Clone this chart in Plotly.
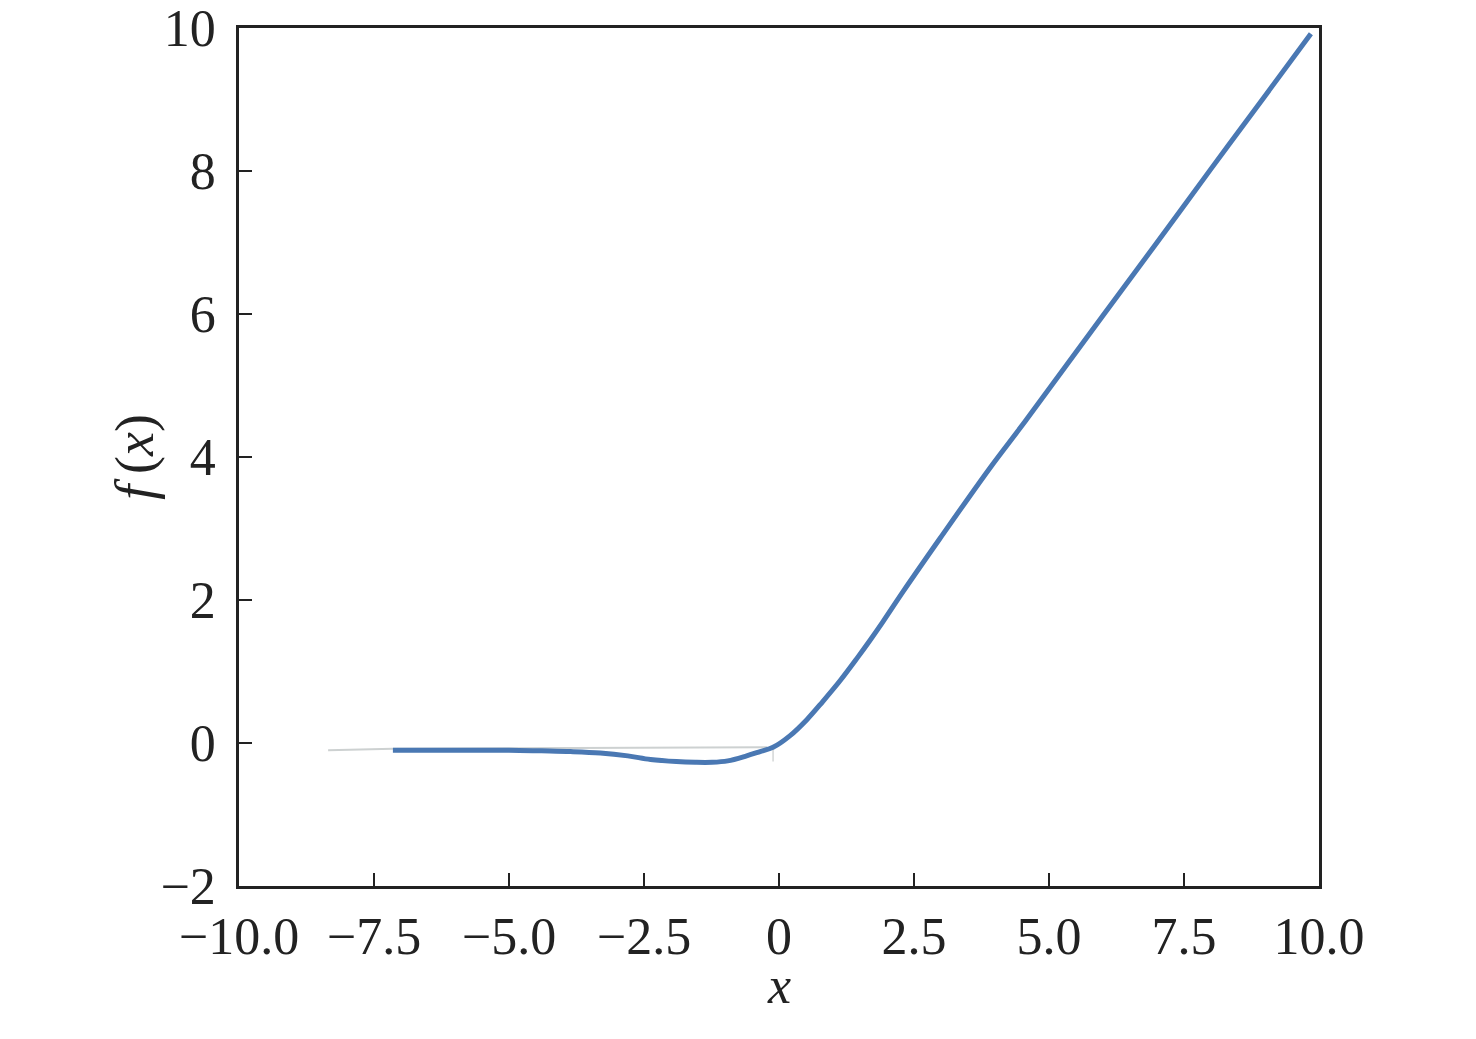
import plotly.graph_objects as go

# Curve values
curve_x = [-7.15, -6.0, -5.0, -4.4, -3.86, -3.31, -2.8, -2.38, -1.9, -1.55, -1.24, -0.95, -0.6, -0.35, -0.11,
           0.2, 0.52, 0.81, 1.13, 1.44, 1.68, 1.92, 2.3, 2.98, 3.9, 4.58, 6.0, 7.0, 8.0, 9.0, 9.85]
curve_y = [-0.10, -0.10, -0.10, -0.11, -0.12, -0.14, -0.18, -0.23, -0.26, -0.27, -0.27, -0.25, -0.18, -0.12, -0.06,
           0.10, 0.33, 0.58, 0.87, 1.18, 1.43, 1.69, 2.12, 2.86, 3.84, 4.52, 5.98, 7.0, 8.03, 9.05, 9.92]

# faint grey guide lines visible in the picture
guide_x = [-8.35, -7.15, -0.22]
guide_y = [-0.10, -0.08, -0.06]
stub_x = [-0.11, -0.11]
stub_y = [-0.06, -0.26]

x_ticks = [-10, -7.5, -5, -2.5, 0, 2.5, 5, 7.5, 10]
x_ticktext = ["\u221210.0", "\u22127.5", "\u22125.0", "\u22122.5", "0", "2.5", "5.0", "7.5", "10.0"]
y_ticks = [-2, 0, 2, 4, 6, 8, 10]
y_ticktext = ["\u22122", "0", "2", "4", "6", "8", "10"]

fig = go.Figure()
fig.add_trace(go.Scatter(x=guide_x, y=guide_y, mode="lines",
                         line=dict(color="#cdd1d1", width=2), showlegend=False, hoverinfo="skip"))
fig.add_trace(go.Scatter(x=stub_x, y=stub_y, mode="lines",
                         line=dict(color="#c8cccc", width=1.2), showlegend=False, hoverinfo="skip"))
fig.add_trace(go.Scatter(x=curve_x, y=curve_y, mode="lines", line_shape="spline",
                         line=dict(color="#4a78b3", width=5), showlegend=False))

font_family = "Liberation Serif"
axis_common = dict(
    showgrid=False, zeroline=False, showline=True, linecolor="#222222", linewidth=2.6,
    mirror=True, ticks="inside", ticklen=13, tickwidth=2.4, tickcolor="#222222",
    ticklabeloverflow="allow", automargin=False,
    tickfont=dict(family=font_family, size=52, color="#222222"),
)

fig.update_layout(
    width=1460, height=1023,
    margin=dict(l=231, r=149, t=20, b=145),
    paper_bgcolor="white", plot_bgcolor="white",
    xaxis=dict(range=[-10.0001, 10.0001], tickvals=x_ticks, ticktext=x_ticktext, ticklabelstandoff=3,
               **axis_common),
    yaxis=dict(range=[-2.0001, 10.0001], tickvals=y_ticks, ticktext=y_ticktext, ticklabelstandoff=10,
               **axis_common),
    annotations=[
        dict(text="<i>x</i>", xref="paper", yref="paper", x=0.5, y=-0.1157,
             xanchor="center", yanchor="middle", showarrow=False,
             font=dict(family=font_family, size=52, color="#222222")),
        dict(text="<i>f</i>\u2009(<i>x</i>)", xref="paper", yref="paper", x=-0.0965, y=0.5,
             xanchor="center", yanchor="middle", textangle=-90, showarrow=False,
             font=dict(family=font_family, size=54, color="#222222")),
    ],
)

fig.write_html("out.html")
